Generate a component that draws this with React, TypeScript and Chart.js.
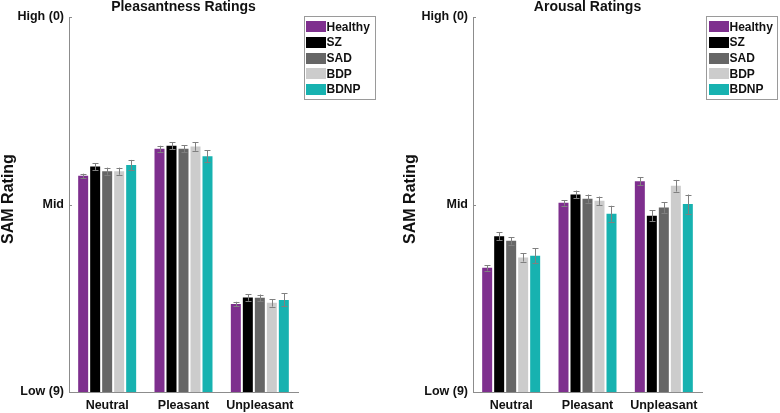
import React, { useEffect, useRef } from "react";
import { Chart, registerables } from "chart.js";

Chart.register(...registerables);

// ---------- data ----------
const categories = ["Neutral", "Pleasant", "Unpleasant"];
const groups = ["Healthy", "SZ", "SAD", "BDP", "BDNP"];
const groupColors = ["#7E2F8E", "#000000", "#666666", "#CCCCCC", "#17B2B0"];

const tickValues = [0, 4.5, 9];
const tickLabels = ["High (0)", "Mid", "Low (9)"];
const LOW = 9;

// Pleasantness ratings (means per group, per category) and SEMs
const pleasHealthy = [3.81, 3.16, 6.89];
const pleasSZ = [3.59, 3.09, 6.73];
const pleasSAD = [3.7, 3.16, 6.74];
const pleasBDP = [3.7, 3.11, 6.86];
const pleasBDNP = [3.55, 3.34, 6.79];
const pleasErrHealthy = [0.05, 0.07, 0.055];
const pleasErrSZ = [0.08, 0.09, 0.08];
const pleasErrSAD = [0.085, 0.08, 0.08];
const pleasErrBDP = [0.085, 0.1, 0.09];
const pleasErrBDNP = [0.12, 0.14, 0.155];

// Arousal ratings
const arouHealthy = [6.02, 4.46, 3.94];
const arouSZ = [5.26, 4.26, 4.77];
const arouSAD = [5.37, 4.36, 4.57];
const arouBDP = [5.77, 4.41, 4.05];
const arouBDNP = [5.73, 4.72, 4.49];
const arouErrHealthy = [0.065, 0.065, 0.09];
const arouErrSZ = [0.095, 0.095, 0.13];
const arouErrSAD = [0.09, 0.1, 0.13];
const arouErrBDP = [0.1, 0.1, 0.14];
const arouErrBDNP = [0.185, 0.19, 0.23];

const FONT = "'Liberation Sans', Arial, sans-serif";
const AXIS_COLOR = "#8c8c8c";
const ERR_COLOR = "#808080";

const decorPlugin = {
  id: "decor",
  afterDatasetsDraw(chart: any, _args: any, opts: any) {
    const ctx = chart.ctx as CanvasRenderingContext2D;
    const { left, right } = chart.chartArea;
    const ys = chart.scales.y;
    ctx.save();
    // error bars
    ctx.strokeStyle = ERR_COLOR;
    ctx.lineWidth = 1;
    chart.data.datasets.forEach((ds: any, i: number) => {
      const meta = chart.getDatasetMeta(i);
      meta.data.forEach((el: any, j: number) => {
        const v = ds.means[j];
        const e = ds.errors[j];
        const x = Math.round(el.x) + 0.5;
        const y1 = ys.getPixelForValue(v - e);
        const y2 = ys.getPixelForValue(v + e);
        ctx.beginPath();
        ctx.moveTo(x, y1);
        ctx.lineTo(x, y2);
        ctx.moveTo(x - 3, Math.round(y1) + 0.5);
        ctx.lineTo(x + 3, Math.round(y1) + 0.5);
        ctx.moveTo(x - 3, Math.round(y2) + 0.5);
        ctx.lineTo(x + 3, Math.round(y2) + 0.5);
        ctx.stroke();
      });
    });
    // inward y ticks
    ctx.strokeStyle = AXIS_COLOR;
    tickValues.forEach((v) => {
      const y = Math.round(ys.getPixelForValue(v)) + 0.5;
      ctx.beginPath();
      ctx.moveTo(left, y);
      ctx.lineTo(left + 3, y);
      ctx.stroke();
    });
    // title
    ctx.fillStyle = "#111";
    ctx.font = `bold 14px ${FONT}`;
    ctx.textAlign = "center";
    ctx.textBaseline = "middle";
    ctx.fillText(opts.title, (left + right) / 2, 7);
    // y title
    ctx.save();
    ctx.translate(opts.yTitleX, opts.yTitleY);
    ctx.rotate(-Math.PI / 2);
    ctx.font = `bold 16px ${FONT}`;
    ctx.fillText(opts.yTitle, 0, 0);
    ctx.restore();
    // legend
    const lx = opts.legendX;
    const ly = 16;
    ctx.fillStyle = "#ffffff";
    ctx.fillRect(lx, ly, 71, 83);
    ctx.strokeStyle = "#9a9a9a";
    ctx.strokeRect(lx + 0.5, ly + 0.5, 71, 83);
    ctx.font = `bold 12px ${FONT}`;
    ctx.textAlign = "left";
    chart.data.datasets.forEach((ds: any, i: number) => {
      const cy = 26.7 + i * 15.7;
      ctx.fillStyle = ds.backgroundColor;
      ctx.fillRect(lx + opts.swatchOffset, Math.round(cy - 5.5), 20, 11);
      ctx.fillStyle = "#111";
      ctx.fillText(ds.label, lx + opts.swatchOffset + 20.5, cy + 0.5);
    });
    ctx.restore();
  },
};

function buildDatasets(means: number[][], errs: number[][]) {
  return groups.map((g, i) => ({
    label: g,
    data: means[i].map((v) => [LOW, v]),
    means: means[i],
    errors: errs[i],
    backgroundColor: groupColors[i],
    borderWidth: 0,
    categoryPercentage: 0.786,
    barPercentage: 0.833,
  }));
}

function makeConfig(
  means: number[][],
  errs: number[][],
  title: string,
  yAxisWidth: number,
  padRight: number,
  yTitleX: number,
  legendX: number,
  swatchOffset: number
): any {
  return {
    type: "bar",
    data: { labels: categories, datasets: buildDatasets(means, errs) },
    plugins: [decorPlugin],
    options: {
      responsive: false,
      animation: false,
      devicePixelRatio: 1,
      layout: { padding: { left: 0, right: padRight, top: 17, bottom: 0 } },
      plugins: {
        legend: { display: false },
        title: { display: false },
        tooltip: { enabled: false },
        decor: { title, yTitle: "SAM Rating", yTitleX, yTitleY: 199, legendX, swatchOffset },
      },
      scales: {
        x: {
          grid: { display: false, drawTicks: false },
          border: { display: true, color: AXIS_COLOR, width: 1 },
          ticks: { color: "#111", font: { family: FONT, size: 12.5, weight: "bold" }, padding: 6, maxRotation: 0 },
          afterFit: (s: any) => {
            s.height = 21;
          },
        },
        y: {
          reverse: true,
          min: 0,
          max: 9,
          grid: { display: false, drawTicks: false },
          border: { display: true, color: AXIS_COLOR, width: 1 },
          afterBuildTicks: (s: any) => {
            s.ticks = tickValues.map((v) => ({ value: v }));
          },
          ticks: {
            color: "#111",
            font: { family: FONT, size: 12.5, weight: "bold" },
            padding: 5,
            callback: (v: any) => {
              const k = tickValues.indexOf(Number(v));
              return k >= 0 ? tickLabels[k] : "";
            },
          },
          afterFit: (s: any) => {
            s.width = yAxisWidth;
          },
        },
      },
    },
  };
}

function Panel(props: { config: any; left: number }) {
  const ref = useRef<HTMLCanvasElement>(null);
  useEffect(() => {
    if (!ref.current) return;
    const chart = new Chart(ref.current, props.config);
    return () => chart.destroy();
  }, []);
  return (
    <canvas
      ref={ref}
      width={390}
      height={413}
      style={{ position: "absolute", left: props.left, top: 0, width: 390, height: 413 }}
    />
  );
}

export default function App() {
  const pleasMeans = [pleasHealthy, pleasSZ, pleasSAD, pleasBDP, pleasBDNP];
  const pleasErrs = [pleasErrHealthy, pleasErrSZ, pleasErrSAD, pleasErrBDP, pleasErrBDNP];
  const arouMeans = [arouHealthy, arouSZ, arouSAD, arouBDP, arouBDNP];
  const arouErrs = [arouErrHealthy, arouErrSZ, arouErrSAD, arouErrBDP, arouErrBDNP];
  const leftCfg = makeConfig(pleasMeans, pleasErrs, "Pleasantness Ratings", 69, 92, 9, 304, 2);
  const rightCfg = makeConfig(arouMeans, arouErrs, "Arousal Ratings", 83, 78, 21, 316, 3);
  return (
    <div style={{ position: "fixed", left: 0, top: 0, width: 780, height: 413, background: "#fff" }}>
      <Panel config={leftCfg} left={0} />
      <Panel config={rightCfg} left={390} />
    </div>
  );
}
